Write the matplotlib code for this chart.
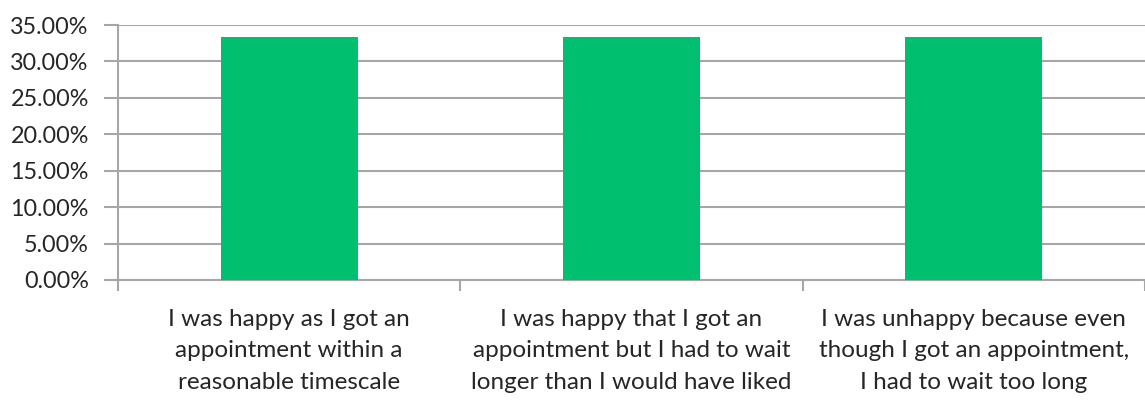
import matplotlib
matplotlib.use("Agg")
import matplotlib.pyplot as plt
from matplotlib.ticker import FuncFormatter, MultipleLocator, FixedLocator
import numpy as np

categories = [
    "I was happy as I got an\nappointment within a\nreasonable timescale",
    "I was happy that I got an\nappointment but I had to wait\nlonger than I would have liked",
    "I was unhappy because even\nthough I got an appointment,\nI had to wait too long",
]
shares = [0.3333, 0.3333, 0.3333]

plt.rcParams["font.family"] = ["Lato", "DejaVu Sans"]

fig = plt.figure(figsize=(11.45, 4.0), dpi=100)
ax = fig.add_axes([0.103, 0.30, 0.897, 0.6375])

x = np.arange(len(categories))
ax.bar(x, shares, width=0.4, color="#00BF6F", zorder=3)

ax.set_xlim(-0.5, len(categories) - 0.5)
ax.set_ylim(0, 0.35)
ax.yaxis.set_major_locator(MultipleLocator(0.05))
ax.yaxis.set_major_formatter(FuncFormatter(lambda v, _: f"{v*100:.2f}%"))
ax.grid(axis="y", color="#a6a6a6", linewidth=1.5, zorder=0)

ax.set_xticks(x)
ax.set_xticklabels(categories, fontsize=17.5, color="#262626", linespacing=1.6)
ax.xaxis.set_minor_locator(FixedLocator(np.arange(-0.5, len(categories) + 0.5, 1.0)))
ax.tick_params(axis="x", which="major", length=0, pad=21)
ax.tick_params(axis="x", which="minor", length=8, width=1.5, color="#a6a6a6")
ax.tick_params(axis="y", length=10, width=1.5, color="#a6a6a6", labelsize=16.8,
               labelcolor="#262626", pad=11)

for side in ("top", "right"):
    ax.spines[side].set_visible(False)
for side in ("left", "bottom"):
    ax.spines[side].set_color("#a6a6a6")
    ax.spines[side].set_linewidth(1.5)

fig.savefig("out.png", dpi=100)
